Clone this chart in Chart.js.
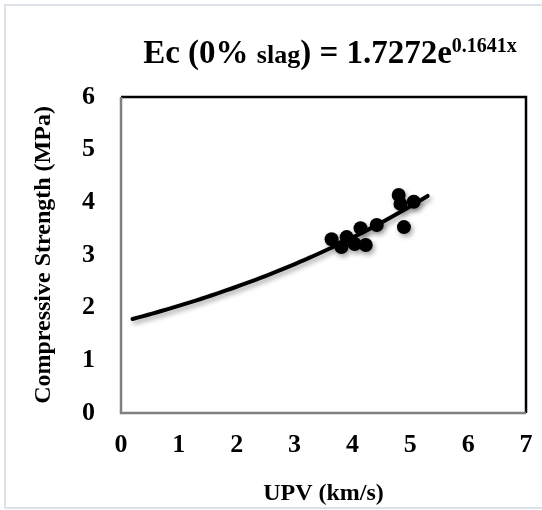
<!DOCTYPE html>
<html>
<head>
<meta charset="utf-8">
<script src="https://cdn.jsdelivr.net/npm/chart.js@4/dist/chart.umd.min.js"></script>
<style>
  html, body { margin: 0; padding: 0; background: #fff; }
  #wrap { position: relative; width: 542px; height: 510px; }
</style>
</head>
<body>
<div id="wrap"><canvas id="c" width="542" height="510"></canvas></div>
<script>
// Measured samples: ultrasonic pulse velocity vs compressive strength
const upv = [3.64, 3.81, 3.90, 4.04, 4.14, 4.23, 4.42, 4.80, 4.83, 5.06, 4.89];
const strength = [3.30, 3.15, 3.34, 3.21, 3.51, 3.19, 3.57, 4.14, 3.97, 4.01, 3.53];

// Exponential fit stated in the title: Ec = A * e^(B * x)
const fitA = 1.7272;
const fitB = 0.1641;
const fitRange = [0.2, 5.3];

const xTicks = [0, 1, 2, 3, 4, 5, 6, 7];
const yTicks = [0, 1, 2, 3, 4, 5, 6];

const points = upv.map((x, i) => ({ x, y: strength[i] }));
const fitLine = [];
for (let k = 0; k <= 60; k++) {
  const x = fitRange[0] + (fitRange[1] - fitRange[0]) * k / 60;
  fitLine.push({ x, y: fitA * Math.exp(fitB * x) });
}

const serif = "'Liberation Serif', 'Times New Roman', serif";

// Soft drop shadow under markers and the fitted curve
const shadowPlugin = {
  id: 'shadow',
  beforeDatasetsDraw(chart) {
    const ctx = chart.ctx;
    ctx.save();
    ctx.shadowColor = 'rgba(0,0,0,0.35)';
    ctx.shadowBlur = 5;
    ctx.shadowOffsetX = 2;
    ctx.shadowOffsetY = 3;
  },
  afterDatasetsDraw(chart) { chart.ctx.restore(); }
};

// Plot frame and outer light border
const framePlugin = {
  id: 'frame',
  beforeDraw(chart) {
    const ctx = chart.ctx;
    ctx.save();
    ctx.fillStyle = '#fff';
    ctx.fillRect(0, 0, chart.width, chart.height);
    ctx.strokeStyle = '#dde2ea';
    ctx.lineWidth = 2;
    ctx.beginPath();
    ctx.moveTo(5, chart.height - 2);
    ctx.lineTo(5, 5);
    ctx.lineTo(chart.width + 2, 5);
    ctx.moveTo(5, chart.height - 2);
    ctx.lineTo(chart.width + 2, chart.height - 2);
    ctx.stroke();
    ctx.restore();
  },
  afterDraw(chart) {
    const { left, right, top, bottom } = chart.chartArea;
    const ctx = chart.ctx;
    ctx.save();
    ctx.lineWidth = 2.5;
    ctx.strokeStyle = '#000';
    ctx.beginPath();
    ctx.moveTo(left, top);
    ctx.lineTo(right, top);
    ctx.lineTo(right, bottom);
    ctx.stroke();
    ctx.strokeStyle = '#808080';
    ctx.beginPath();
    ctx.moveTo(left, top);
    ctx.lineTo(left, bottom);
    ctx.lineTo(right, bottom);
    ctx.stroke();
    ctx.restore();
  }
};

// Title with smaller "slag" and superscript exponent
const titlePlugin = {
  id: 'eqTitle',
  afterDraw(chart) {
    const ctx = chart.ctx;
    const parts = [
      { t: 'Ec (0% ', size: 33, dy: 0 },
      { t: 'slag', size: 26, dy: 0 },
      { t: ') = ' + fitA.toFixed(4) + 'e', size: 33, dy: 0 },
      { t: String(fitB) + 'x', size: 20, dy: -11 }
    ];
    ctx.save();
    ctx.fillStyle = '#000';
    ctx.textBaseline = 'alphabetic';
    let total = 0;
    parts.forEach(p => { ctx.font = 'bold ' + p.size + 'px ' + serif; p.w = ctx.measureText(p.t).width; total += p.w; });
    let x = 330 - total / 2;
    const base = 63;
    parts.forEach(p => {
      ctx.font = 'bold ' + p.size + 'px ' + serif;
      ctx.fillText(p.t, x, base + p.dy);
      x += p.w;
    });
    ctx.restore();
  }
};

new Chart(document.getElementById('c'), {
  type: 'scatter',
  data: {
    datasets: [
      {
        label: 'Trend',
        data: fitLine,
        showLine: true,
        borderColor: '#000',
        borderWidth: 4,
        pointRadius: 0,
        tension: 0,
        borderCapStyle: 'round',
        order: 2
      },
      {
        label: 'Samples',
        data: points,
        backgroundColor: '#000',
        borderColor: '#000',
        pointRadius: 7,
        pointBorderWidth: 0,
        order: 1
      }
    ]
  },
  options: {
    responsive: false,
    animation: false,
    layout: { padding: { left: 0, right: 16, top: 97, bottom: 0 } },
    plugins: { legend: { display: false }, tooltip: { enabled: false }, title: { display: false } },
    scales: {
      x: {
        type: 'linear',
        min: 0, max: 7,
        afterBuildTicks(s) { s.ticks = xTicks.map(v => ({ value: v })); },
        afterFit(s) { s.height = 97; s.paddingLeft = 0; s.paddingRight = 0; },
        grid: { display: false, drawTicks: false },
        border: { display: false },
        ticks: { color: '#000', padding: 17, font: { family: serif, size: 26, weight: 'bold' } },
        title: { display: true, text: 'UPV (km/s)', color: '#000', padding: { top: 0, bottom: 2 },
                 font: { family: serif, size: 24, weight: 'bold' } }
      },
      y: {
        type: 'linear',
        min: 0, max: 6,
        afterBuildTicks(s) { s.ticks = yTicks.map(v => ({ value: v })); },
        afterFit(s) { s.width = 121; s.paddingTop = 0; s.paddingBottom = 0; },
        grid: { display: false, drawTicks: false },
        border: { display: false },
        ticks: { color: '#000', padding: 26, font: { family: serif, size: 26, weight: 'bold' } },
        title: { display: true, text: 'Compressive Strength (MPa)', color: '#000', padding: { top: 29, bottom: 0 },
                 font: { family: serif, size: 24, weight: 'bold' } }
      }
    }
  },
  plugins: [framePlugin, shadowPlugin, titlePlugin]
});
</script>
</body>
</html>
